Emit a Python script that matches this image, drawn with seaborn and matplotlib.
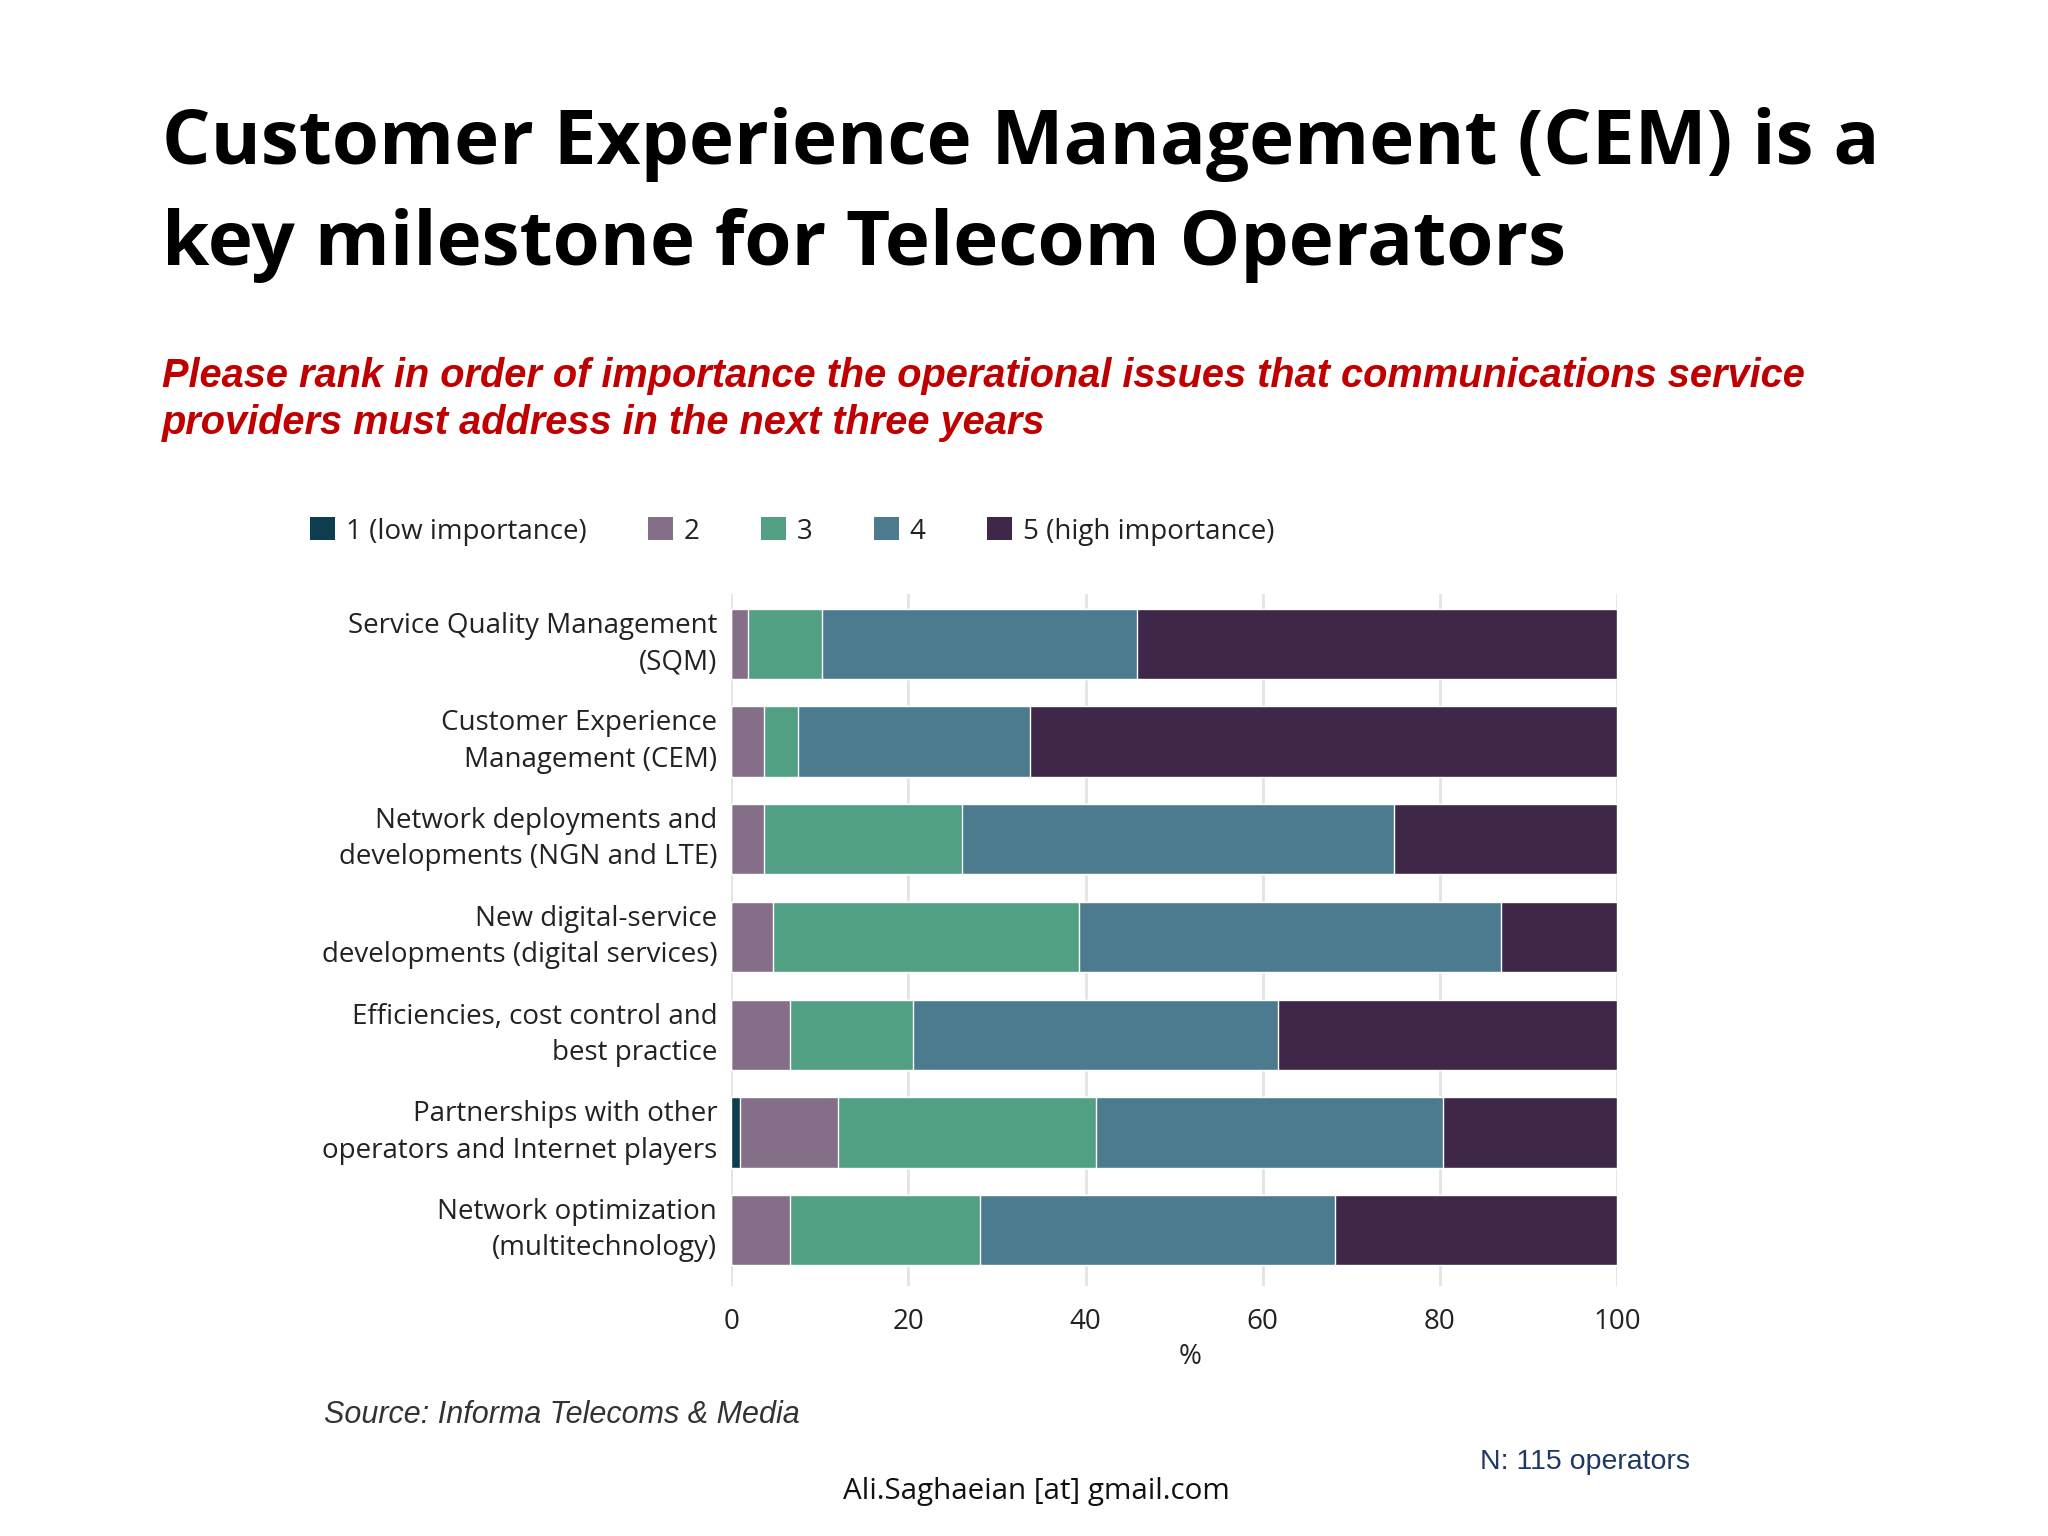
import matplotlib
matplotlib.use("Agg")
import matplotlib.pyplot as plt
import seaborn as sns
import pandas as pd
from matplotlib.patches import Patch

# Data (percent of respondents by importance rank)
categories = [
    "Service Quality Management\n(SQM)",
    "Customer Experience\nManagement (CEM)",
    "Network deployments and\ndevelopments (NGN and LTE)",
    "New digital-service\ndevelopments (digital services)",
    "Efficiencies, cost control and\nbest practice",
    "Partnerships with other\noperators and Internet players",
    "Network optimization\n(multitechnology)",
]
rank_labels = ["1 (low importance)", "2", "3", "4", "5 (high importance)"]
rank1 = [0.0, 0.0, 0.0, 0.0, 0.0, 1.0, 0.0]
rank2 = [1.9, 3.7, 3.7, 4.7, 6.6, 11.1, 6.6]
rank3 = [8.4, 3.8, 22.4, 34.6, 13.9, 29.1, 21.5]
rank4 = [35.5, 26.2, 48.7, 47.6, 41.2, 39.2, 40.1]
rank5 = [54.2, 66.3, 25.2, 13.1, 38.3, 19.6, 31.8]
colors = ["#0e3d50", "#856e88", "#52a084", "#4c7b8f", "#3e2749"]

df = pd.DataFrame({"issue": categories, "1": rank1, "2": rank2, "3": rank3,
                   "4": rank4, "5": rank5})
cum = df[["1", "2", "3", "4", "5"]].cumsum(axis=1)
cum["issue"] = df["issue"]

sns.set_style("white")
plt.rcParams["font.family"] = ["Open Sans", "DejaVu Sans"]

fig = plt.figure(figsize=(20.48, 15.36), dpi=100)
fig.patch.set_facecolor("white")
ax = fig.add_axes([0.357, 0.1628, 0.4326, 0.4505])

# stacked bars: draw the largest cumulative first, then smaller on top
for i in range(4, -1, -1):
    sns.barplot(data=cum, x=str(i + 1), y="issue", color=colors[i], width=0.72,
                saturation=1, orient="h", ax=ax, zorder=2)

ax.set_xlim(0, 100)
ax.set_ylim(6.57, -0.51)
ax.set_xticks([0, 20, 40, 60, 80, 100])
ax.grid(axis="x", color="#e4e4e4", linewidth=2, zorder=0)
ax.set_axisbelow(True)
for s in ax.spines.values():
    s.set_visible(False)
ax.tick_params(axis="both", length=0, labelsize=20, colors="#222222")
ax.tick_params(axis="x", pad=16)
ax.tick_params(axis="y", pad=10)
ax.set_ylabel("")
ax.set_xlabel("%", fontsize=20, color="#222222")
ax.xaxis.set_label_coords(0.518, -0.083)
for lab in ax.get_yticklabels():
    lab.set_horizontalalignment("right")
    lab.set_verticalalignment("center")
    lab.set_linespacing(1.4)

handles = [Patch(facecolor=c, edgecolor="none") for c in colors]
fig.legend(handles, rank_labels, loc="center left", bbox_to_anchor=(0.139, 0.654),
           ncol=5, frameon=False, fontsize=20, handlelength=0.9, handleheight=0.9,
           handletextpad=0.4, columnspacing=2.2, labelcolor="#222222")

fig.text(0.079, 0.873, "Customer Experience Management (CEM) is a\nkey milestone for Telecom Operators",
         fontsize=55, fontweight="bold", color="black", va="center", ha="left", linespacing=1.47)
fig.text(0.079, 0.740, "Please rank in order of importance the operational issues that communications service\nproviders must address in the next three years",
         fontsize=28.6, fontweight="bold", style="italic", color="#c00000", va="center", ha="left",
         family=["Liberation Sans", "DejaVu Sans"], linespacing=1.3)
fig.text(0.158, 0.079, "Source: Informa Telecoms & Media", fontsize=22, style="italic",
         color="#333333", family=["Liberation Sans", "DejaVu Sans"], va="center")
fig.text(0.7225, 0.0485, "N: 115 operators", fontsize=20.5, color="#1f3864",
         family=["Liberation Sans", "DejaVu Sans"], va="center")
fig.text(0.506, 0.029, "Ali.Saghaeian [at] gmail.com", fontsize=21.3, color="#111111",
         ha="center", va="center")

fig.savefig("out.png", dpi=100)
